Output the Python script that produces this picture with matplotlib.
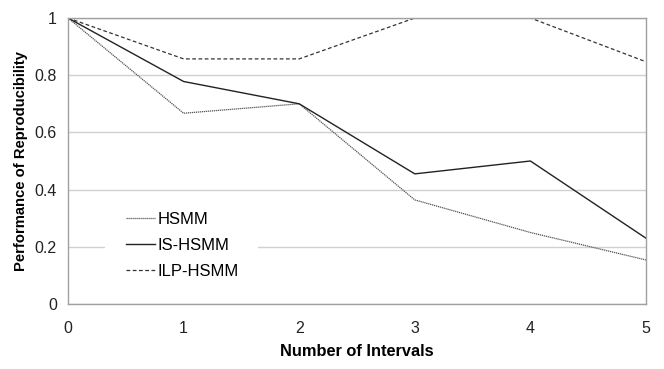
import matplotlib
matplotlib.use("Agg")
import matplotlib.pyplot as plt
from matplotlib.patches import Rectangle
from matplotlib.ticker import FuncFormatter

x = [0, 1, 2, 3, 4, 5]
hsmm = [1.0, 0.667, 0.70, 0.364, 0.25, 0.154]
is_hsmm = [1.0, 0.778, 0.70, 0.455, 0.50, 0.23]
ilp_hsmm = [1.0, 0.857, 0.857, 1.0, 1.0, 0.847]
labels = ["HSMM", "IS-HSMM", "ILP-HSMM"]

plt.rcParams['font.family'] = ['Liberation Sans', 'DejaVu Sans']
fig = plt.figure(figsize=(6.64, 3.69), dpi=100)
ax = fig.add_axes([68/664, 1-304/369, (646-68)/664, (304-18)/369])

ax.plot(x, hsmm, color='#555555', lw=0.9, ls=(0, (1, 0.6)), label=labels[0])
ax.plot(x, is_hsmm, color='#222222', lw=1.0, ls='-', label=labels[1])
ax.plot(x, ilp_hsmm, color='#333333', lw=0.9, ls=(0, (3, 2)), label=labels[2])

ax.set_xlim(0, 5)
ax.set_ylim(0, 1)
ax.set_yticks([0, 0.2, 0.4, 0.6, 0.8, 1.0])
ax.set_xticks(x)
ax.yaxis.set_major_formatter(FuncFormatter(lambda v, p: f"{v:g}"))
ax.grid(axis='y', color='#d0d0d0', lw=1.0)
ax.set_axisbelow(True)
for s in ax.spines.values():
    s.set_color('#a0a0a0')
    s.set_linewidth(1.0)
ax.tick_params(length=0, labelsize=11.5, pad=8, colors='#222222')
ax.tick_params(axis='x', pad=12)
ax.set_xlabel("Number of Intervals", fontsize=11.8, fontweight='bold', labelpad=6)
ax.set_ylabel("Performance of Reproducibility", fontsize=10.6, fontweight='bold', labelpad=5)

# white background patch behind the legend (breaks the gridline like the reference)
ax.add_patch(Rectangle((0.064, 0.03), 0.265, 0.32, transform=ax.transAxes,
                       facecolor='white', edgecolor='none', zorder=1.5))

leg = ax.legend(loc='lower left', bbox_to_anchor=(0.0865, 0.06), borderaxespad=0,
                frameon=False, fontsize=12, handlelength=1.7, handletextpad=0.2,
                labelspacing=0.65, borderpad=0.5)

fig.savefig("out.png", dpi=100)
